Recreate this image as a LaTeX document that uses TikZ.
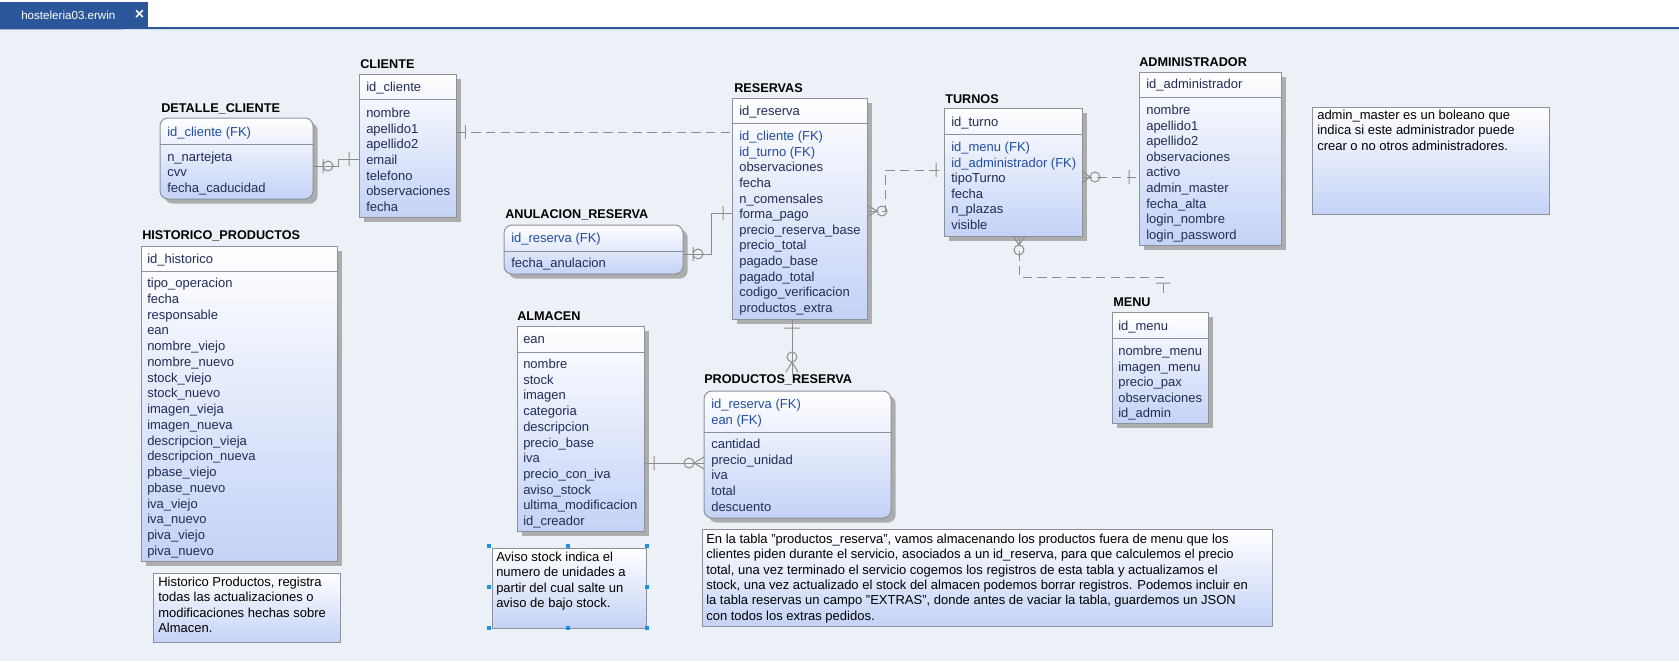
\documentclass[tikz,border=0pt]{standalone}
\usepackage{fontspec}
\setmainfont{Liberation Sans}
\usetikzlibrary{fit,shadows}

\definecolor{canvas}{RGB}{236,241,248}
\definecolor{entblue}{RGB}{196,210,246}
\definecolor{entline}{RGB}{140,146,156}
\definecolor{relcol}{RGB}{140,140,140}
\definecolor{attrcol}{RGB}{34,44,86}
\definecolor{fkcol}{RGB}{32,76,164}
\definecolor{tabblue}{RGB}{43,87,154}
\definecolor{handblue}{RGB}{30,144,230}

\newcommand\erfont{\fontsize{9.75}{11.5}\selectfont}

\tikzset{
  entity/.style={draw=entline, line width=0.75pt, top color=white, bottom color=entblue, inner sep=0pt,
    drop shadow={shadow xshift=3.5pt, shadow yshift=-3.5pt, fill=black!32, opacity=1}},
  depentity/.style={entity, rounded corners=6pt},
  notebox/.style={draw=entline, line width=0.75pt, top color=white, bottom color=entblue, inner sep=0pt},
  sepline/.style={draw=entline, line width=0.75pt},
  enttitle/.style={font=\bfseries\fontsize{9.5}{11}\selectfont, anchor=base west, inner sep=0pt},
  attr/.style={font=\erfont, text=attrcol, anchor=base west, inner sep=0pt},
  fk/.style={attr, text=fkcol},
  notetext/.style={font=\erfont, align=left, anchor=base west, inner sep=0pt},
  idrel/.style={draw=relcol, line width=0.75pt},
  nonidrel/.style={idrel, dash pattern=on 7pt off 4pt},
  sym/.style={draw=relcol, line width=0.75pt},
  handle/.style={fill=handblue, minimum size=3.5pt, inner sep=0pt}
}

\begin{document}
\begin{tikzpicture}[x=0.75pt, y=-0.75pt]
\useasboundingbox (0,0) rectangle (1679,661);
\fill[canvas] (0,28) rectangle (1679,661);
\fill[white] (0,0) rectangle (1679,28);

% tab
\node[fill=tabblue, inner sep=0pt, fit={(0,2) (148,28)}] (tab) {};
\node[font=\fontsize{8.7}{10}\selectfont, text=white, anchor=base west, inner sep=0pt] (tabname) at (21,19) {hosteleria03.erwin};
\node[font=\bfseries\fontsize{12}{12}\selectfont, text=white, inner sep=0pt] (tabclose) at (139.5,15) {×};
\draw[tabblue, line width=1.5pt] (tab.south west) -- (1679,28);

% DETALLE_CLIENTE
\node[enttitle] (detalleT) at (161,112.7) {DETALLE\_CLIENTE};
\node[depentity, fit={(160,118) (313,199)}] (detalle) {};
\draw[sepline] (detalle.west |- 0,144) -- (detalle.east |- 0,144);
\node[fk] (detalle-pk) at (167,136.5) {id\_cliente (FK)};
\foreach \fld [count=\i from 0] in {n\_nartejeta,cvv,fecha\_caducidad}
  \node[attr] (detalle-\i) at (167,161.2+15.5*\i) {\fld};

% CLIENTE
\node[enttitle] (clienteT) at (360,68.7) {CLIENTE};
\node[entity, fit={(359,74) (456,217)}] (cliente) {};
\draw[sepline] (cliente.west |- 0,99) -- (cliente.east |- 0,99);
\node[attr] (cliente-pk) at (366,91.5) {id\_cliente};
\foreach \fld [count=\i from 0] in {nombre,apellido1,apellido2,email,telefono,observaciones,fecha}
  \node[attr] (cliente-\i) at (366,117.5+15.67*\i) {\fld};

% RESERVAS
\node[enttitle] (reservasT) at (734,92.7) {RESERVAS};
\node[entity, fit={(732,98) (867,319)}] (reservas) {};
\draw[sepline] (reservas.west |- 0,123) -- (reservas.east |- 0,123);
\node[attr] (reservas-pk) at (739,115.5) {id\_reserva};
\foreach \fld/\sty [count=\i from 0] in {id\_cliente (FK)/fk, id\_turno (FK)/fk, observaciones/attr, fecha/attr,
    n\_comensales/attr, forma\_pago/attr, precio\_reserva\_base/attr, precio\_total/attr, pagado\_base/attr,
    pagado\_total/attr, codigo\_verificacion/attr, productos\_extra/attr}
  \node[\sty] (reservas-\i) at (739,140.5+15.64*\i) {\fld};

% ANULACION_RESERVA
\node[enttitle] (anulacionT) at (505,218.7) {ANULACION\_RESERVA};
\node[depentity, fit={(504,225) (683,274)}] (anulacion) {};
\draw[sepline] (anulacion.west |- 0,251) -- (anulacion.east |- 0,251);
\node[fk] (anulacion-pk) at (511,242.5) {id\_reserva (FK)};
\node[attr] (anulacion-0) at (511,267.5) {fecha\_anulacion};

% TURNOS
\node[enttitle] (turnosT) at (945,103.7) {TURNOS};
\node[entity, fit={(944,108) (1082,236)}] (turnos) {};
\draw[sepline] (turnos.west |- 0,134) -- (turnos.east |- 0,134);
\node[attr] (turnos-pk) at (951,126.5) {id\_turno};
\foreach \fld/\sty [count=\i from 0] in {id\_menu (FK)/fk, id\_administrador (FK)/fk, tipoTurno/attr,
    fecha/attr, n\_plazas/attr, visible/attr}
  \node[\sty] (turnos-\i) at (951,151.5+15.6*\i) {\fld};

% ADMINISTRADOR
\node[enttitle] (adminT) at (1139,66.7) {ADMINISTRADOR};
\node[entity, fit={(1139,72) (1281,245)}] (admin) {};
\draw[sepline] (admin.west |- 0,97) -- (admin.east |- 0,97);
\node[attr] (admin-pk) at (1146,88.5) {id\_administrador};
\foreach \fld [count=\i from 0] in {nombre,apellido1,apellido2,observaciones,activo,admin\_master,
    fecha\_alta,login\_nombre,login\_password}
  \node[attr] (admin-\i) at (1146,114.5+15.6*\i) {\fld};

% MENU
\node[enttitle] (menuT) at (1113,306.7) {MENU};
\node[entity, fit={(1112,312) (1208,423)}] (menu) {};
\draw[sepline] (menu.west |- 0,338) -- (menu.east |- 0,338);
\node[attr] (menu-pk) at (1118,330.5) {id\_menu};
\foreach \fld [count=\i from 0] in {nombre\_menu,imagen\_menu,precio\_pax,observaciones,id\_admin}
  \node[attr] (menu-\i) at (1118,355.5+15.5*\i) {\fld};

% PRODUCTOS_RESERVA
\node[enttitle] (prodresT) at (704,383.7) {PRODUCTOS\_RESERVA};
\node[depentity, fit={(704,391) (891,518)}] (prodres) {};
\draw[sepline] (prodres.west |- 0,432) -- (prodres.east |- 0,432);
\node[fk] (prodres-pk1) at (711,408.5) {id\_reserva (FK)};
\node[fk] (prodres-pk2) at (711,424) {ean (FK)};
\foreach \fld [count=\i from 0] in {cantidad,precio\_unidad,iva,total,descuento}
  \node[attr] (prodres-\i) at (711,448.5+15.7*\i) {\fld};

% ALMACEN
\node[enttitle] (almacenT) at (517,320.7) {ALMACEN};
\node[entity, fit={(517,326) (644,531)}] (almacen) {};
\draw[sepline] (almacen.west |- 0,352) -- (almacen.east |- 0,352);
\node[attr] (almacen-pk) at (523,343.5) {ean};
\foreach \fld [count=\i from 0] in {nombre,stock,imagen,categoria,descripcion,precio\_base,iva,
    precio\_con\_iva,aviso\_stock,ultima\_modificacion,id\_creador}
  \node[attr] (almacen-\i) at (523,368.5+15.7*\i) {\fld};

% HISTORICO_PRODUCTOS
\node[enttitle] (historicoT) at (142,239.7) {HISTORICO\_PRODUCTOS};
\node[entity, fit={(141,246) (337,561)}] (historico) {};
\draw[sepline] (historico.west |- 0,271) -- (historico.east |- 0,271);
\node[attr] (historico-pk) at (147,263.5) {id\_historico};
\foreach \fld [count=\i from 0] in {tipo\_operacion,fecha,responsable,ean,nombre\_viejo,nombre\_nuevo,
    stock\_viejo,stock\_nuevo,imagen\_vieja,imagen\_nueva,descripcion\_vieja,descripcion\_nueva,
    pbase\_viejo,pbase\_nuevo,iva\_viejo,iva\_nuevo,piva\_viejo,piva\_nuevo}
  \node[attr] (historico-\i) at (147,287.5+15.76*\i) {\fld};

% notes (base = last line)
\node[notebox, fit={(153,573) (340,642)}] (notaHist) {};
\node[notetext] (notaHistT) at (158,632.5) {Historico Productos, registra\\todas las actualizaciones o\\modificaciones hechas sobre\\Almacen.};

\node[notebox, fit={(492,548) (646,628)}] (notaAviso) {};
\node[notetext] (notaAvisoT) at (496,607.5) {Aviso stock indica el\\numero de unidades a\\partir del cual salte un\\aviso de bajo stock.};
\foreach \hx/\hy [count=\i] in {489/546,568/546,647/546,489/587,647/587,489/628,568/628,647/628}
  \node[handle] (handle\i) at (\hx,\hy) {};

\node[notebox, fit={(702,529) (1272,626)}] (notaProd) {};
\node[notetext] (notaProdT) at (706,620.2) {En la tabla "productos\_reserva", vamos almacenando los productos fuera de menu que los\\clientes piden durante el servicio, asociados a un id\_reserva, para que calculemos el precio\\total, una vez terminado el servicio cogemos los registros de esta tabla y actualizamos el\\stock, una vez actualizado el stock del almacen podemos borrar registros. Podemos incluir en\\la tabla reservas un campo "EXTRAS", donde antes de vaciar la tabla, guardemos un JSON\\con todos los extras pedidos.};

\node[notebox, fit={(1312,107) (1549,214)}] (notaAdmin) {};
\node[notetext] (notaAdminT) at (1317,150.2) {admin\_master es un boleano que\\indica si este administrador puede\\crear o no otros administradores.};

% relationships
\draw[idrel] (detalle.east |- 0,166) -- (338,166) |- (cliente.west |- 0,159);
\draw[sym] (323,159) -- (323,173) (328,166) circle[radius=3.75pt] (349,152) -- (349,166);

\draw[nonidrel] (cliente.east |- 0,132) -- (reservas.west |- 0,132);
\draw[sym] (465,125) -- (465,139);

\draw[idrel] (anulacion.east |- 0,254) -- (711,254) |- (reservas.west |- 0,213);
\draw[sym] (693,247) -- (693,261) (698,254) circle[radius=3.75pt] (723,206) -- (723,220);

\draw[nonidrel] (reservas.east |- 0,211) -- (885,211) |- (turnos.west |- 0,170);
\draw[sym] (867,205) -- (877,211) -- (867,217) (882,211) circle[radius=3.75pt] (936,163) -- (936,177);

\draw[nonidrel] (turnos.east |- 0,177) -- (admin.west |- 0,177);
\draw[sym] (1082,171) -- (1090,177) -- (1082,183) (1095,177) circle[radius=3.75pt] (1129,170) -- (1129,184);

\draw[nonidrel] (turnos.south -| 1019,0) -- (1019,277) -| (menuT.north -| 1163,0);
\draw[sym] (1013,236) -- (1019,245) -- (1025,236) (1019,250) circle[radius=3.75pt] (1156,283) -- (1170,283);

\draw[idrel] (reservas.south -| 792,0) -- (prodresT.north -| 792,0);
\draw[sym] (784,328) -- (800,328) (792,357) circle[radius=3.75pt] (786,372) -- (792,362) -- (798,372);

\draw[idrel] (almacen.east |- 0,463) -- (prodres.west |- 0,463);
\draw[sym] (654,456) -- (654,470) (689,463) circle[radius=3.75pt] (704,457) -- (694,463) -- (704,469);
\end{tikzpicture}
\end{document}
